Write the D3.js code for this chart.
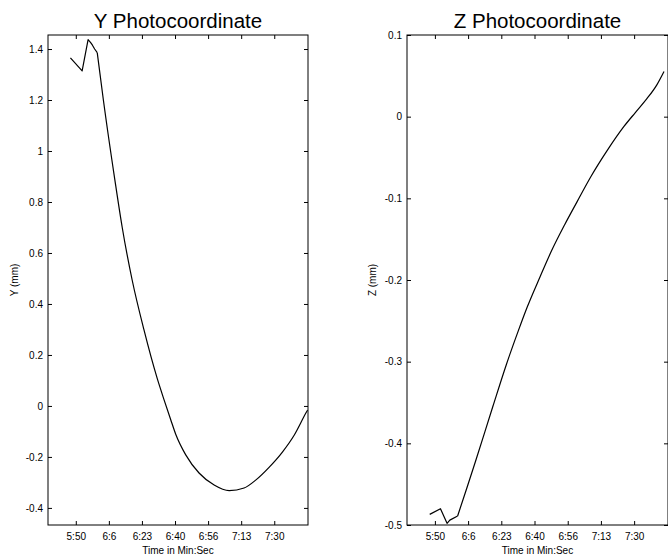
<!DOCTYPE html>
<html>
<head>
<meta charset="utf-8">
<script src="https://cdn.jsdelivr.net/npm/d3@7"></script>
<style>
  body { margin: 0; background: #fff; }
  svg { display: block; font-family: "Liberation Sans", Arial, sans-serif; }
  .tick line { stroke: #000; }
  .tick text { font-size: 10px; fill: #000; }
</style>
</head>
<body>
<div id="chart"></div>
<script>
// time axis: seconds since start of minute 0, labels as printed (floored)
var tickSeconds = [350, 366.67, 383.33, 400, 416.67, 433.33, 450];
var tickLabels = ["5:50", "6:6", "6:23", "6:40", "6:56", "7:13", "7:30"];

var yTicks = [-0.4, -0.2, 0, 0.2, 0.4, 0.6, 0.8, 1, 1.2, 1.4];
var zTicks = [-0.5, -0.4, -0.3, -0.2, -0.1, 0, 0.1];

// Y photocoordinate (mm)
var yTime = [347.3, 353.2, 356.2, 357.5, 358.4, 359.5, 360.8, 363.9, 369.7, 373.4, 378.4,
  384.3, 391.1, 394.4, 397.8, 400.4, 405.4, 412.1, 419.7, 427.3, 434.8, 440.8, 447.5, 454.2, 460.1, 466.0, 466.8];
var yValues = [1.365, 1.314, 1.437, 1.425, 1.415, 1.400, 1.386, 1.200, 0.886, 0.700, 0.494,
  0.300, 0.106, 0.026, -0.053, -0.112, -0.192, -0.263, -0.310, -0.332, -0.322, -0.290, -0.240, -0.180, -0.114, -0.027, -0.016];

// Z photocoordinate (mm)
var zTime = [347.4, 352.8, 356.1, 357.5, 361.4, 366.0, 370.4, 379.2, 385.8, 391.9, 396.2, 402.8,
  408.6, 415.2, 421.4, 428.4, 436.6, 444.9, 450.6, 456.4, 461.4, 465.0];
var zValues = [-0.487, -0.480, -0.498, -0.494, -0.489, -0.455, -0.422, -0.354, -0.304, -0.262, -0.234, -0.196,
  -0.164, -0.132, -0.104, -0.073, -0.041, -0.012, 0.005, 0.022, 0.039, 0.0554];

var width = 668, height = 557;

var svg = d3.select("#chart").append("svg")
    .attr("width", width)
    .attr("height", height);

function fmt(d) {
  return String(Math.round(d * 10) / 10);   // plain hyphen, no trailing zeros
}

function drawPanel(p) {
  var x = d3.scaleLinear().domain([336, 467]).range([p.left, p.right]),
      y = d3.scaleLinear().domain(p.yDomain).range([525, 35]);

  var g = svg.append("g");

  g.append("clipPath").attr("id", p.id)
    .append("rect")
      .attr("x", p.left).attr("y", 35)
      .attr("width", p.right - p.left).attr("height", 490);

  g.append("rect")
      .attr("x", p.left).attr("y", 35)
      .attr("width", p.right - p.left).attr("height", 490)
      .attr("fill", "none")
      .attr("stroke", "#000")
      .attr("stroke-width", 1);

  g.append("g")
      .attr("transform", "translate(0,525)")
      .call(d3.axisBottom(x).tickValues(tickSeconds)
        .tickFormat(function(d, i) { return tickLabels[i]; })
        .tickSize(-4).tickPadding(8))
      .call(function(a) { a.select(".domain").remove(); });

  g.append("g")
      .attr("transform", "translate(0,35)")
      .call(d3.axisTop(x).tickValues(tickSeconds).tickFormat("").tickSize(-4))
      .call(function(a) { a.select(".domain").remove(); });

  g.append("g")
      .attr("transform", "translate(" + p.left + ",0)")
      .call(d3.axisLeft(y).tickValues(p.ticks).tickFormat(fmt).tickSize(-4).tickPadding(5))
      .call(function(a) { a.select(".domain").remove(); });

  g.append("g")
      .attr("transform", "translate(" + p.right + ",0)")
      .call(d3.axisRight(y).tickValues(p.ticks).tickFormat("").tickSize(-4))
      .call(function(a) { a.select(".domain").remove(); });

  var pts = p.values.map(function(v, i) { return [p.time[i], v]; });

  // the first samples are jumpy, the rest is a smooth trace
  var jumpy = d3.line()
      .x(function(d) { return x(d[0]); })
      .y(function(d) { return y(d[1]); });

  var smooth = d3.line()
      .curve(d3.curveMonotoneX)
      .x(function(d) { return x(d[0]); })
      .y(function(d) { return y(d[1]); });

  var trace = g.append("g").attr("clip-path", "url(#" + p.id + ")");

  trace.append("path")
      .datum(pts.slice(0, p.jumpy))
      .attr("d", jumpy);

  trace.append("path")
      .datum(pts.slice(p.jumpy - 1))
      .attr("d", smooth);

  trace.selectAll("path")
      .attr("fill", "none")
      .attr("stroke", "#000")
      .attr("stroke-width", 1.2)
      .attr("stroke-linejoin", "round");

  var cx = (p.left + p.right) / 2;

  g.append("text")
      .attr("x", cx).attr("y", 28)
      .attr("text-anchor", "middle")
      .style("font-size", "20.5px")
      .text(p.title);

  g.append("text")
      .attr("x", cx).attr("y", 554)
      .attr("text-anchor", "middle")
      .style("font-size", "10px")
      .text("Time in Min:Sec");

  g.append("text")
      .attr("transform", "translate(" + p.labelX + ",280)rotate(-90)")
      .attr("text-anchor", "middle")
      .style("font-size", "10px")
      .text(p.yLabel);
}

drawPanel({
  id: "clipY", left: 48, right: 308, yDomain: [-0.467, 1.455], ticks: yTicks, jumpy: 7,
  time: yTime, values: yValues, title: "Y Photocoordinate", yLabel: "Y (mm)", labelX: 18
});

drawPanel({
  id: "clipZ", left: 407, right: 668, yDomain: [-0.5, 0.1], ticks: zTicks, jumpy: 5,
  time: zTime, values: zValues, title: "Z Photocoordinate", yLabel: "Z (mm)", labelX: 375.5
});
</script>
</body>
</html>
